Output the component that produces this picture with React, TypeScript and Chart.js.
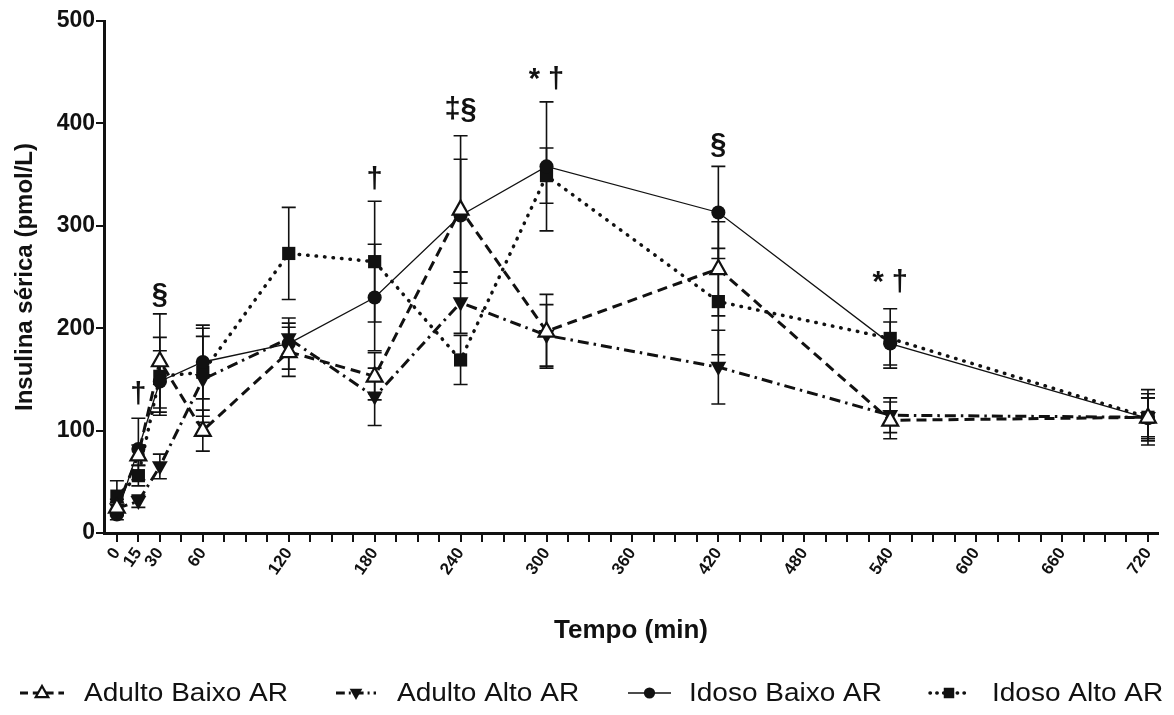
import React, { useEffect, useRef } from 'react';
import { Chart, registerables } from 'chart.js';

Chart.register(...registerables);

const FONT = "'Liberation Sans', Arial, sans-serif";
const INK = '#111111';

// sampling times (min)
const times = [0, 15, 30, 60, 120, 180, 240, 300, 420, 540, 720];
// x tick marks every 15 min, labelled ones below
const xTickMarks = [
  0, 15, 30, 45, 60, 75, 90, 105, 120, 135, 150, 165, 180, 195, 210, 225, 240, 255, 270, 285,
  300, 315, 330, 345, 360, 375, 390, 405, 420, 435, 450, 465, 480, 495, 510, 525, 540, 555,
  570, 585, 600, 615, 630, 645, 660, 675, 690, 705, 720,
];
const xTickLabels = [0, 15, 30, 60, 120, 180, 240, 300, 360, 420, 480, 540, 600, 660, 720];

const seriesNames = ['Adulto Baixo AR', 'Adulto Alto AR', 'Idoso Baixo AR', 'Idoso Alto AR'];

const adultoBaixo = [25, 76, 168, 100, 177, 153, 316, 197, 258, 110, 113];
const adultoBaixoErr = [8, 10, 46, 20, 24, 23, 72, 36, 46, 18, 23];
const adultoAlto = [24, 31, 65, 150, 190, 133, 225, 193, 162, 115, 113];
const adultoAltoErr = [6, 6, 12, 42, 15, 28, 30, 30, 36, 17, 19];
const idosoBaixo = [18, 82, 148, 167, 185, 230, 310, 358, 313, 185, 112];
const idosoBaixoErr = [5, 30, 30, 36, 25, 52, 55, 63, 45, 21, 20];
const idosoAlto = [36, 56, 153, 157, 273, 265, 169, 349, 226, 190, 113];
const idosoAltoErr = [15, 10, 38, 43, 45, 59, 24, 27, 52, 29, 27];

// significance marks
const annotTexts = ['†', '§', '†', '‡§', '* †', '§', '* †'];
const annotTimes = [15, 30, 180, 240, 300, 420, 540];
const annotValues = [135, 232, 345, 413, 442, 379, 244];

type Marker = 'openTri' | 'downTri' | 'circle' | 'square';

const styles: { dash: number[]; width: number; cap: CanvasLineCap; marker: Marker }[] = [
  { dash: [10, 6], width: 3, cap: 'butt', marker: 'openTri' },
  { dash: [11, 5, 2.5, 5], width: 3, cap: 'butt', marker: 'downTri' },
  { dash: [], width: 1.3, cap: 'butt', marker: 'circle' },
  { dash: [0.5, 8], width: 3.5, cap: 'round', marker: 'square' },
];

const values = [adultoBaixo, adultoAlto, idosoBaixo, idosoAlto];
const errors = [adultoBaixoErr, adultoAltoErr, idosoBaixoErr, idosoAltoErr];

function drawMarker(ctx: CanvasRenderingContext2D, m: Marker, x: number, y: number, r: number) {
  ctx.save();
  ctx.setLineDash([]);
  ctx.fillStyle = INK;
  ctx.strokeStyle = INK;
  ctx.beginPath();
  if (m === 'openTri') {
    ctx.moveTo(x, y - r);
    ctx.lineTo(x + r * 0.9, y + r * 0.6);
    ctx.lineTo(x - r * 0.9, y + r * 0.6);
    ctx.closePath();
    ctx.fillStyle = '#fff';
    ctx.fill();
    ctx.lineWidth = 2.2;
    ctx.stroke();
  } else if (m === 'downTri') {
    ctx.moveTo(x, y + r);
    ctx.lineTo(x + r * 0.9, y - r * 0.6);
    ctx.lineTo(x - r * 0.9, y - r * 0.6);
    ctx.closePath();
    ctx.fill();
  } else if (m === 'circle') {
    ctx.arc(x, y, r * 0.8, 0, Math.PI * 2);
    ctx.fill();
  } else {
    ctx.rect(x - r * 0.75, y - r * 0.75, r * 1.5, r * 1.5);
    ctx.fill();
  }
  ctx.restore();
}

const errorBarPlugin = {
  id: 'errorBars',
  beforeDatasetsDraw(chart: any) {
    const { ctx, scales } = chart;
    const xs = scales.x;
    const ys = scales.y;
    ctx.save();
    ctx.strokeStyle = INK;
    ctx.lineWidth = 1.6;
    ctx.setLineDash([]);
    values.forEach((vals, s) => {
      vals.forEach((v, i) => {
        const e = errors[s][i];
        const x = xs.getPixelForValue(times[i]);
        const yTop = ys.getPixelForValue(v + e);
        const yBot = ys.getPixelForValue(v - e);
        ctx.beginPath();
        ctx.moveTo(x, yTop);
        ctx.lineTo(x, yBot);
        ctx.moveTo(x - 7, yTop);
        ctx.lineTo(x + 7, yTop);
        ctx.moveTo(x - 7, yBot);
        ctx.lineTo(x + 7, yBot);
        ctx.stroke();
      });
    });
    ctx.restore();
  },
};

const markerPlugin = {
  id: 'markers',
  afterDatasetsDraw(chart: any) {
    const { ctx, scales } = chart;
    [3, 2, 1, 0].forEach((s) => {
      values[s].forEach((v, i) => {
        drawMarker(ctx, styles[s].marker, scales.x.getPixelForValue(times[i]), scales.y.getPixelForValue(v), 8.8);
      });
    });
  },
};

const annotationPlugin = {
  id: 'annots',
  afterDraw(chart: any) {
    const { ctx, scales } = chart;
    ctx.save();
    ctx.fillStyle = INK;
    ctx.font = `bold 29px ${FONT}`;
    ctx.textAlign = 'center';
    ctx.textBaseline = 'middle';
    annotTexts.forEach((t, i) => {
      const x = scales.x.getPixelForValue(annotTimes[i]);
      const y = scales.y.getPixelForValue(annotValues[i]);
      ctx.fillText(t, x, y);
    });
    ctx.restore();
  },
};

const legendPlugin = {
  id: 'customLegend',
  afterDraw(chart: any) {
    const { ctx } = chart;
    const y = 693;
    const items = [
      { x1: 20, x2: 64, tx: 84 },
      { x1: 336, x2: 376, tx: 397 },
      { x1: 628, x2: 671, tx: 689 },
      { x1: 930, x2: 968, tx: 992 },
    ];
    ctx.save();
    items.forEach((it, s) => {
      const st = styles[s];
      ctx.strokeStyle = INK;
      ctx.lineWidth = st.width;
      ctx.lineCap = st.cap;
      ctx.setLineDash(st.dash.length ? st.dash.map((d) => d * 0.8) : []);
      ctx.beginPath();
      ctx.moveTo(it.x1, y);
      ctx.lineTo(it.x2, y);
      ctx.stroke();
      drawMarker(ctx, st.marker, (it.x1 + it.x2) / 2, y, 7);
      ctx.setLineDash([]);
      ctx.fillStyle = INK;
      ctx.font = `25px ${FONT}`;
      ctx.textAlign = 'left';
      ctx.textBaseline = 'middle';
      ctx.save();
      ctx.translate(it.tx, y + 1);
      ctx.scale(1.12, 1);
      ctx.fillText(seriesNames[s], 0, 0);
      ctx.restore();
    });
    ctx.restore();
  },
};

export default function App() {
  const canvasRef = useRef<HTMLCanvasElement | null>(null);

  useEffect(() => {
    if (!canvasRef.current) return;
    Chart.defaults.font.family = FONT;
    const datasets = values.map((vals, s) => ({
      label: seriesNames[s],
      data: vals.map((v, i) => ({ x: times[i], y: v })),
      borderColor: INK,
      borderWidth: styles[s].width,
      borderDash: styles[s].dash,
      borderCapStyle: styles[s].cap,
      pointRadius: 0,
      pointHoverRadius: 0,
      fill: false,
      tension: 0,
    }));
    const chart = new Chart(canvasRef.current, {
      type: 'line',
      data: { datasets },
      options: {
        animation: false,
        responsive: true,
        maintainAspectRatio: false,
        layout: { padding: { top: 21, right: 16, left: 0, bottom: 0 } },
        plugins: { legend: { display: false }, tooltip: { enabled: false } },
        scales: {
          x: {
            type: 'linear',
            min: -9,
            max: 727,
            afterBuildTicks: (scale: any) => {
              scale.ticks = xTickMarks.map((v) => ({ value: v }));
            },
            afterFit: (scale: any) => {
              scale.height = 182;
            },
            ticks: {
              autoSkip: false,
              minRotation: 55,
              maxRotation: 55,
              color: INK,
              padding: 2,
              font: { family: FONT, size: 17, weight: 'bold' },
              callback: (v: any) => (xTickLabels.includes(Number(v)) ? String(v) : ''),
            },
            grid: { drawOnChartArea: false, drawTicks: true, tickLength: 9, lineWidth: 2, color: INK },
            border: { display: true, color: INK, width: 3 },
            title: {
              display: true,
              text: 'Tempo (min)',
              color: INK,
              font: { family: FONT, size: 26, weight: 'bold' },
              padding: { top: 0, bottom: 69 },
            },
          },
          y: {
            min: 0,
            max: 500,
            afterFit: (scale: any) => {
              scale.width = 104;
            },
            ticks: {
              stepSize: 100,
              color: INK,
              padding: 1,
              font: { family: FONT, size: 23, weight: 'bold' },
            },
            grid: { drawOnChartArea: false, drawTicks: true, tickLength: 8, lineWidth: 2, color: INK },
            border: { display: true, color: INK, width: 3 },
            title: {
              display: true,
              text: 'Insulina sérica (pmol/L)',
              color: INK,
              font: { family: FONT, size: 24, weight: 'bold' },
              padding: { top: 11, bottom: 0 },
            },
          },
        },
      } as any,
      plugins: [errorBarPlugin, markerPlugin, annotationPlugin, legendPlugin],
    });
    return () => chart.destroy();
  }, []);

  return (
    <div style={{ position: 'absolute', left: 0, top: 0, width: 1174, height: 715, background: '#fff' }}>
      <canvas ref={canvasRef} />
    </div>
  );
}
